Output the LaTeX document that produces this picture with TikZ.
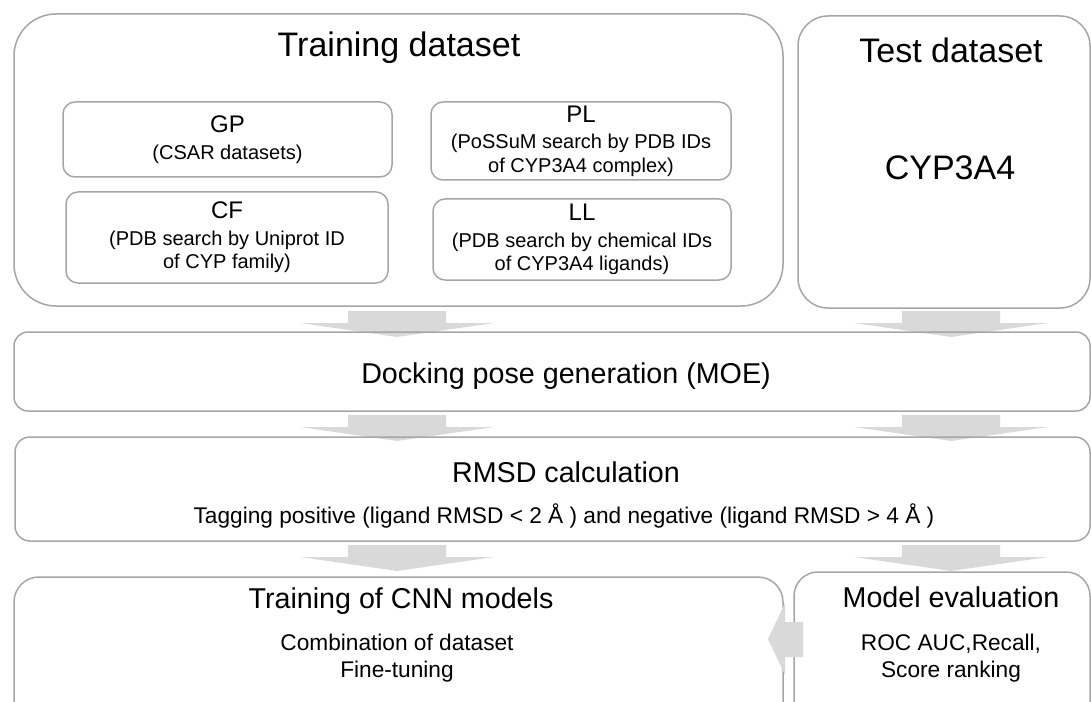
\documentclass[tikz,border=0pt]{standalone}
\usepackage{fontspec}
\setmainfont{Liberation Sans}
\newlength{\du}
\setlength{\du}{0.75pt}
\definecolor{panelcolor}{rgb}{0.650000, 0.650000, 0.650000}
\definecolor{flowcolor}{rgb}{0.850000, 0.850000, 0.850000}
\tikzset{
  panel/.style={draw=panelcolor, line width=1.5\du, inner sep=0pt},
  subpanel/.style={panel, rounded corners=12\du, align=center,
    font=\fontsize{15}{17.5}\selectfont},
  bigtitle/.style={anchor=base, inner sep=0pt, font=\fontsize{25.5}{28}\selectfont},
  midtitle/.style={anchor=base, inner sep=0pt, font=\fontsize{21.5}{24}\selectfont},
  subtext/.style={anchor=base, inner sep=0pt, font=\fontsize{17}{20}\selectfont},
}
\newcommand{\subhead}[1]{{\fontsize{18}{20}\selectfont #1}\\[2.5pt]}

\begin{document}
\begin{tikzpicture}
\pgftransformxscale{1.000000}
\pgftransformyscale{-1.000000}
\useasboundingbox (0\du,0\du) rectangle (1091\du,702\du);
\clip (0\du,0\du) rectangle (1091\du,702\du);
% flow arrows, drawn under the panels
\foreach \fx/\fy in {397/311, 951/311, 397/415, 951/415, 397/545, 951/545}{
  \begin{scope}[xshift=\fx\du, yshift=\fy\du]
  \fill[flowcolor] (-49\du,0\du)--(49\du,0\du)--(49\du,12\du)--(97\du,12\du)--(0\du,26\du)--(-97\du,12\du)--(-49\du,12\du)--cycle;
  \end{scope}
}
% panels
\node[panel, rounded corners=42\du, minimum width=769\du, minimum height=292\du] (trainpanel) at (398.5\du,160\du) {};
\node[panel, rounded corners=30\du, minimum width=292\du, minimum height=292\du] (testpanel) at (944\du,162\du) {};
\node[panel, rounded corners=14\du, minimum width=1076\du, minimum height=79\du] (dockpanel) at (552\du,371.5\du) {};
\node[panel, rounded corners=15\du, minimum width=1075\du, minimum height=104\du] (rmsdpanel) at (552.5\du,489\du) {};
\node[panel, rounded corners=25\du, minimum width=769\du, minimum height=163\du] (cnnpanel) at (398.5\du,658.5\du) {};
\node[panel, rounded corners=24\du, minimum width=296\du, minimum height=168\du] (evalpanel) at (942\du,656\du) {};
% training subsets
\node[subpanel, minimum width=329\du, minimum height=75\du] (gp) at (227.5\du,139.5\du) {\subhead{GP}(CSAR datasets)};
\node[subpanel, minimum width=322\du, minimum height=91\du] (cf) at (227\du,237.5\du) {\subhead{CF}(PDB search by Uniprot ID\\of CYP family)};
\node[subpanel, minimum width=300\du, minimum height=78\du] (pl) at (581\du,141\du) {\subhead{PL}(PoSSuM search by PDB IDs\\of CYP3A4 complex)};
\node[subpanel, minimum width=298\du, minimum height=81\du] (ll) at (582\du,239.5\du) {\subhead{LL}(PDB search by chemical IDs\\of CYP3A4 ligands)};
% setfont left to latex
\node[bigtitle] (traintitle) at (399\du,57\du) {Training dataset};
\node[bigtitle] (testtitle) at (951\du,63\du) {Test dataset};
\node[bigtitle] (testset) at (950\du,180\du) {CYP3A4};
\node[midtitle] (docktitle) at (566\du,383\du) {Docking pose generation (MOE)};
\node[midtitle] (rmsdtitle) at (566\du,482\du) {RMSD calculation};
\node[subtext] (rmsdtag) at (564\du,523\du) {Tagging positive (ligand RMSD < 2 Å ) and negative (ligand RMSD > 4 Å )};
\node[midtitle] (cnntitle) at (401\du,608\du) {Training of CNN models};
\node[subtext] (cnncomb) at (397\du,650\du) {Combination of dataset};
\node[subtext] (cnntune) at (397\du,677\du) {Fine-tuning};
\node[midtitle] (evaltitle) at (951\du,607\du) {Model evaluation};
\node[subtext] (evalroc) at (951\du,650\du) {ROC AUC,Recall,};
\node[subtext] (evalrank) at (951\du,677\du) {Score ranking};
% feedback arrow, over the panels
\fill[flowcolor] (803\du,622\du)--(785\du,622\du)--(785\du,603\du)--(768\du,639\du)--(785\du,675\du)--(785\du,657\du)--(803\du,657\du)--cycle;
\end{tikzpicture}
\end{document}
